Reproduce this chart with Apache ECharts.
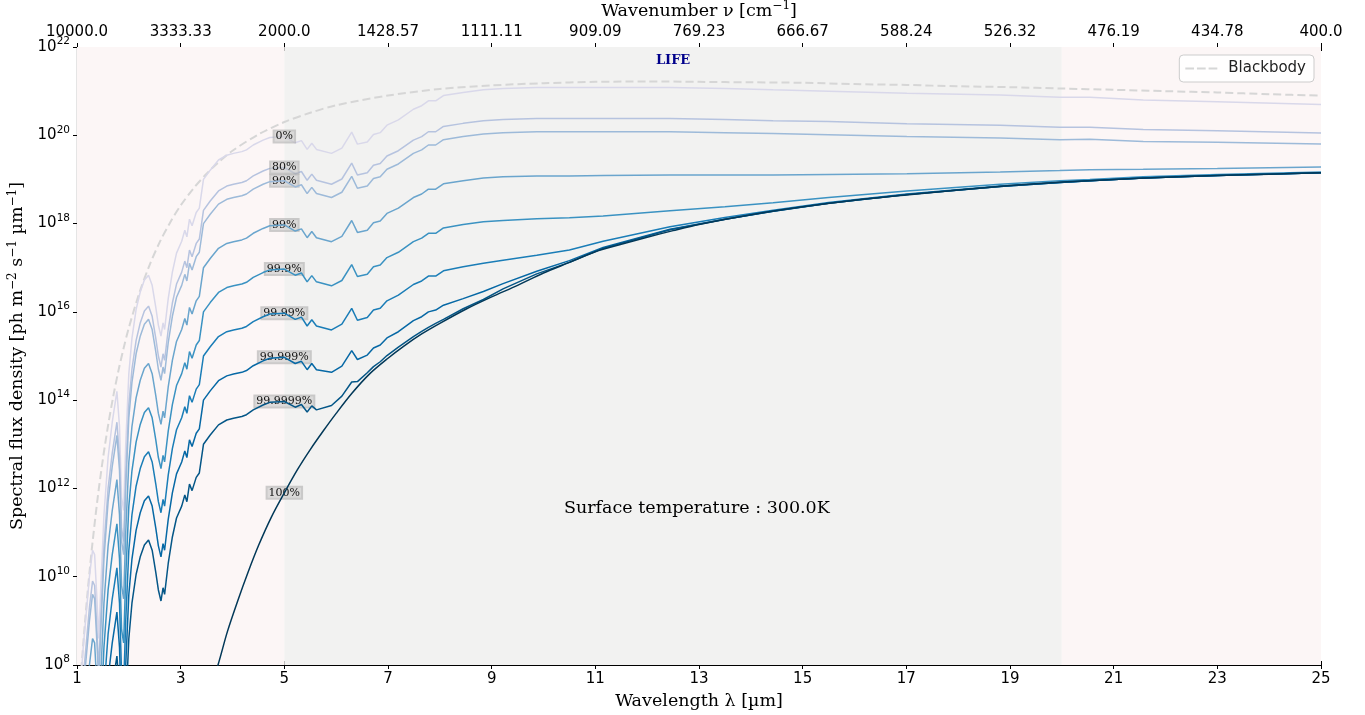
<!DOCTYPE html>
<html>
<head>
<meta charset="utf-8">
<script src="https://cdn.jsdelivr.net/npm/echarts@6/dist/echarts.min.js"></script>
<style>
  html, body { margin: 0; padding: 0; background: #ffffff; }
  #chart { width: 1365px; height: 715px; }
</style>
</head>
<body>
<div id="chart"></div>
<script>
// Emission spectra of a 300 K planet for several cloud-cover fractions.
// Flux values are stored as log10 of the spectral photon flux density
// [ph m^-2 s^-1 um^-1]; the y axis is laid out in decades.

const tickLams = [1, 3, 5, 7, 9, 11, 13, 15, 17, 19, 21, 23, 25];
const wavenumberLabels = ['10000.0', '3333.33', '2000.0', '1428.57', '1111.11', '909.09',
  '769.23', '666.67', '588.24', '526.32', '476.19', '434.78', '400.0'];

const curveNames = ['0%', '80%', '90%', '99%', '99.9%', '99.99%', '99.999%', '99.9999%'];

// wavelength grid shared by the partly cloudy spectra [um]
const lambdaGrid = [
  1.00, 1.06, 1.12, 1.18, 1.24, 1.30, 1.34, 1.38, 1.42, 1.46, 1.52, 1.60, 1.68, 1.77, 1.82, 1.86,
  1.90, 1.94, 2.00, 2.06, 2.14, 2.22, 2.30, 2.38, 2.45, 2.52, 2.57, 2.62, 2.66, 2.69, 2.76, 2.84,
  2.92, 3.02, 3.08, 3.12, 3.17, 3.22, 3.30, 3.36, 3.44, 3.57, 3.73, 3.89, 4.02, 4.18, 4.27, 4.40,
  4.59, 4.72, 5.00,
  5.21, 5.33, 5.44, 5.53, 5.62, 5.91, 6.11, 6.30, 6.41, 6.60, 6.72, 6.85, 6.98, 7.20, 7.49, 7.65,
  7.78, 7.92, 8.07, 8.45, 8.84, 9.22, 9.87, 10.5, 11.15, 12.44, 13.5, 14.43, 15.5, 17.01, 18.81,
  19.96, 20.54, 21.57, 23.0, 25.0
];

const flux0 = [
  6.5, 7.4, 8.4, 9.2, 10.0, 10.6, 10.5, 9.6, 8.6, 9.8, 11.4, 12.7, 13.5, 14.2, 13.4, 11.8,
  11.5, 13.0, 14.6, 15.4, 16.05, 16.45, 16.72, 16.83, 16.6, 16.1, 15.7, 15.45, 15.75, 15.6, 16.3, 16.9,
  17.33, 17.6, 17.85, 17.7, 18.1, 17.95, 18.25, 18.35, 19.0, 19.21, 19.44, 19.55, 19.59, 19.63, 19.67, 19.78,
  19.89, 19.95, 19.97,
  19.83, 19.88, 19.68, 19.82, 19.68, 19.59, 19.71, 20.07, 19.80, 19.85, 20.02, 20.06, 20.23, 20.35, 20.59, 20.67,
  20.78, 20.78, 20.90, 20.97, 21.03, 21.06, 21.08, 21.08, 21.08, 21.08, 21.06, 21.03, 21.00, 20.95, 20.91,
  20.86, 20.86, 20.80, 20.76, 20.70
];

const flux80 = [
  5.8, 6.7, 7.7, 8.5, 9.3, 9.9, 9.8, 8.9, 7.9, 9.1, 10.7, 12.0, 12.8, 13.5, 12.7, 11.1,
  10.8, 12.3, 13.9, 14.7, 15.35, 15.75, 16.02, 16.13, 15.9, 15.4, 15.0, 14.75, 15.05, 14.9, 15.6, 16.2,
  16.63, 16.9, 17.15, 17.0, 17.4, 17.25, 17.55, 17.65, 18.3, 18.51, 18.74, 18.85, 18.89, 18.93, 18.97, 19.08,
  19.19, 19.25, 19.27,
  19.13, 19.18, 18.98, 19.12, 18.98, 18.89, 19.01, 19.37, 19.10, 19.15, 19.32, 19.36, 19.53, 19.65, 19.89, 19.97,
  20.08, 20.08, 20.20, 20.27, 20.33, 20.36, 20.38, 20.38, 20.38, 20.38, 20.36, 20.33, 20.31, 20.26, 20.23,
  20.18, 20.18, 20.13, 20.10, 20.05
];

const flux90 = [
  5.5, 6.4, 7.4, 8.2, 9.0, 9.6, 9.5, 8.6, 7.6, 8.8, 10.4, 11.7, 12.5, 13.2, 12.4, 10.8,
  10.5, 12.0, 13.6, 14.4, 15.05, 15.45, 15.72, 15.83, 15.6, 15.1, 14.7, 14.45, 14.75, 14.6, 15.3, 15.9,
  16.33, 16.6, 16.85, 16.7, 17.1, 16.95, 17.25, 17.35, 18.0, 18.21, 18.44, 18.55, 18.59, 18.63, 18.67, 18.78,
  18.89, 18.95, 18.97,
  18.83, 18.88, 18.68, 18.82, 18.68, 18.59, 18.71, 19.07, 18.80, 18.85, 19.02, 19.06, 19.23, 19.35, 19.59, 19.67,
  19.78, 19.78, 19.90, 19.97, 20.03, 20.06, 20.08, 20.08, 20.08, 20.08, 20.06, 20.04, 20.01, 19.97, 19.94,
  19.90, 19.91, 19.86, 19.84, 19.80
];

const flux99 = [
  4.5, 5.4, 6.4, 7.2, 8.0, 8.6, 8.5, 7.6, 6.6, 7.8, 9.4, 10.7, 11.5, 12.2, 11.4, 9.8,
  9.5, 11.0, 12.6, 13.4, 14.05, 14.45, 14.72, 14.83, 14.6, 14.1, 13.7, 13.45, 13.75, 13.6, 14.3, 14.9,
  15.33, 15.6, 15.85, 15.7, 16.1, 15.95, 16.25, 16.35, 17.0, 17.21, 17.44, 17.55, 17.59, 17.63, 17.67, 17.78,
  17.89, 17.95, 17.97,
  17.83, 17.88, 17.68, 17.82, 17.68, 17.59, 17.71, 18.07, 17.80, 17.85, 18.02, 18.06, 18.23, 18.35, 18.59, 18.67,
  18.78, 18.78, 18.90, 18.97, 19.03, 19.06, 19.08, 19.08, 19.09, 19.10, 19.10, 19.10, 19.11, 19.13, 19.17,
  19.20, 19.22, 19.23, 19.25, 19.28
];

const flux999 = [
  3.5, 4.4, 5.4, 6.2, 7.0, 7.6, 7.5, 6.6, 5.6, 6.8, 8.4, 9.7, 10.5, 11.2, 10.4, 8.8,
  8.5, 10.0, 11.6, 12.4, 13.05, 13.45, 13.72, 13.83, 13.6, 13.1, 12.7, 12.45, 12.75, 12.6, 13.3, 13.9,
  14.33, 14.6, 14.85, 14.7, 15.1, 14.95, 15.25, 15.35, 16.0, 16.21, 16.44, 16.55, 16.59, 16.63, 16.67, 16.78,
  16.89, 16.95, 16.97,
  16.83, 16.88, 16.68, 16.82, 16.68, 16.59, 16.71, 17.07, 16.80, 16.85, 17.02, 17.06, 17.23, 17.35, 17.59, 17.67,
  17.78, 17.78, 17.90, 17.98, 18.04, 18.07, 18.11, 18.13, 18.17, 18.29, 18.38, 18.47, 18.59, 18.74, 18.89,
  18.97, 19.00, 19.06, 19.11, 19.17
];

const flux9999 = [
  2.5, 3.4, 4.4, 5.2, 6.0, 6.6, 6.5, 5.6, 4.6, 5.8, 7.4, 8.7, 9.5, 10.2, 9.4, 7.8,
  7.5, 9.0, 10.6, 11.4, 12.05, 12.45, 12.72, 12.83, 12.6, 12.1, 11.7, 11.45, 11.75, 11.6, 12.3, 12.9,
  13.33, 13.6, 13.85, 13.7, 14.1, 13.95, 14.25, 14.35, 15.0, 15.21, 15.44, 15.55, 15.59, 15.63, 15.67, 15.78,
  15.89, 15.95, 15.97,
  15.83, 15.88, 15.68, 15.82, 15.68, 15.59, 15.72, 16.08, 15.81, 15.87, 16.04, 16.08, 16.25, 16.38, 16.62, 16.70,
  16.81, 16.81, 16.93, 17.02, 17.10, 17.17, 17.28, 17.40, 17.60, 17.93, 18.14, 18.30, 18.48, 18.67, 18.85,
  18.93, 18.97, 19.03, 19.09, 19.15
];

const flux99999 = [
  1.5, 2.4, 3.4, 4.2, 5.0, 5.6, 5.5, 4.6, 3.6, 4.8, 6.4, 7.7, 8.5, 9.2, 8.4, 6.8,
  6.5, 8.0, 9.6, 10.4, 11.05, 11.45, 11.72, 11.83, 11.6, 11.1, 10.7, 10.45, 10.75, 10.6, 11.3, 11.9,
  12.33, 12.6, 12.85, 12.7, 13.1, 12.95, 13.25, 13.35, 14.0, 14.21, 14.44, 14.55, 14.59, 14.63, 14.67, 14.78,
  14.89, 14.95, 14.97,
  14.83, 14.88, 14.69, 14.83, 14.69, 14.63, 14.77, 15.12, 14.92, 15.02, 15.18, 15.25, 15.41, 15.55, 15.80, 15.89,
  16.00, 16.04, 16.15, 16.30, 16.46, 16.64, 16.92, 17.16, 17.46, 17.87, 18.10, 18.28, 18.46, 18.66, 18.84,
  18.93, 18.97, 19.03, 19.09, 19.15
];

const flux999999 = [
  0.5, 1.4, 2.4, 3.2, 4.0, 4.6, 4.5, 3.6, 2.6, 3.8, 5.4, 6.7, 7.5, 8.2, 7.4, 5.8,
  5.5, 7.0, 8.6, 9.4, 10.05, 10.45, 10.72, 10.83, 10.6, 10.1, 9.7, 9.45, 9.75, 9.6, 10.3, 10.9,
  11.33, 11.6, 11.85, 11.7, 12.1, 11.95, 12.25, 12.35, 13.0, 13.21, 13.44, 13.55, 13.59, 13.63, 13.67, 13.78,
  13.89, 13.95, 13.97,
  13.84, 13.90, 13.73, 13.87, 13.78, 13.88, 14.09, 14.41, 14.42, 14.62, 14.76, 14.87, 15.01, 15.20, 15.44, 15.56,
  15.65, 15.74, 15.83, 16.07, 16.28, 16.52, 16.86, 17.12, 17.44, 17.86, 18.10, 18.28, 18.46, 18.66, 18.84,
  18.93, 18.97, 19.03, 19.09, 19.15
];

// fully overcast spectrum (100 %)
const cloudLam = [3.6, 3.72, 3.9, 4.1, 4.3, 4.5, 4.75, 5.0, 5.25, 5.5, 5.75, 6.0, 6.3, 6.65, 7.0, 7.3,
  7.65, 8.0, 8.5, 9.0, 9.5, 10.0, 10.5, 11.0, 11.5, 12.0, 12.5, 13.0, 14.0, 15.0, 16.0, 17.0,
  18.0, 19.0, 20.0, 21.0, 22.0, 23.0, 24.0, 25.0];
const cloudFlux = [7.6, 8.0, 8.75, 9.45, 10.1, 10.7, 11.35, 11.9, 12.42, 12.88, 13.3, 13.7, 14.15, 14.6, 14.95, 15.22,
  15.5, 15.74, 16.06, 16.34, 16.6, 16.88, 17.12, 17.36, 17.53, 17.69, 17.84, 17.98, 18.2, 18.38, 18.53, 18.65,
  18.76, 18.86, 18.94, 19.0, 19.05, 19.09, 19.12, 19.15];

// 300 K blackbody reference
const bbLam = [1.05, 1.10, 1.15, 1.20, 1.25, 1.30, 1.40, 1.50, 1.60, 1.70, 1.80, 1.90, 2.00, 2.20, 2.40,
  2.60, 2.80, 3.00, 3.25, 3.50, 3.75, 4.00, 4.50, 5.00, 5.50, 6.00, 7.00, 8.00, 9.00, 10.0, 11.0,
  12.0, 13.0, 14.0, 15.0, 16.0, 17.0, 18.0, 19.0, 20.0, 21.0, 22.0, 23.0, 24.0, 25.0];
const bbFlux = [7.34, 8.16, 8.91, 9.59, 10.21, 10.78, 11.80, 12.67, 13.43, 14.09, 14.67, 15.18, 15.64, 16.42, 17.06,
  17.59, 18.03, 18.41, 18.80, 19.13, 19.41, 19.65, 20.02, 20.30, 20.51, 20.68, 20.90, 21.05, 21.13, 21.18, 21.21,
  21.22, 21.21, 21.20, 21.19, 21.16, 21.14, 21.11, 21.09, 21.06, 21.03, 21.00, 20.97, 20.93, 20.90];

const curveValues = [flux0, flux80, flux90, flux99, flux999, flux9999, flux99999, flux999999];
const curveColors = ['#d9d8ea', '#b6c3df', '#9dbad9', '#6aa5cd', '#3a92c2', '#1a7db7', '#0668a5', '#045687'];
const cloudColor = '#023858';

const labelLam = 5;
const SERIF = 'DejaVu Serif';
const SANS = 'DejaVu Sans';

const pair = (xs, ys) => xs.map((x, i) => [x, ys[i]]);

function tagPoint(name, xs, ys) {
  const i = xs.indexOf(labelLam);
  return {
    symbol: 'circle',
    symbolSize: 1,
    itemStyle: { color: 'rgba(0,0,0,0)' },
    label: {
      show: true,
      position: 'inside',
      formatter: '{b}',
      fontFamily: SERIF,
      fontSize: 11,
      color: '#111',
      backgroundColor: 'rgba(200,200,200,0.6)',
      borderColor: 'rgba(150,150,150,0.45)',
      borderWidth: 1,
      padding: [1, 2, 0, 2]
    },
    data: [{ name: name, coord: [xs[i], ys[i]] }]
  };
}

const chart = echarts.init(document.getElementById('chart'), null, { renderer: 'canvas' });

const series = [];

// wavelength bands: outside / inside the LIFE range
series.push({
  type: 'line',
  name: 'bands',
  data: [],
  silent: true,
  z: 0,
  markArea: {
    silent: true,
    data: [
      [{ xAxis: 1, itemStyle: { color: '#fcf6f6' } }, { xAxis: 5 }],
      [{ xAxis: 5, name: 'LIFE', itemStyle: { color: '#f2f2f1' } }, { xAxis: 20 }],
      [{ xAxis: 20, itemStyle: { color: '#fcf6f6' } }, { xAxis: 25 }]
    ],
    label: {
      show: true,
      position: 'insideTop',
      distance: 7,
      formatter: (p) => p.name || '',
      fontFamily: SERIF,
      fontWeight: 'bold',
      fontSize: 13,
      color: '#00008b'
    }
  }
});

series.push({
  type: 'line',
  name: 'Blackbody',
  data: pair(bbLam, bbFlux),
  symbol: 'none',
  smooth: 0.3,
  lineStyle: { color: '#d6d6d6', width: 2, type: [8, 4] },
  itemStyle: { color: '#d6d6d6' },
  z: 2
});

curveNames.forEach((name, k) => {
  series.push({
    type: 'line',
    name: name,
    data: pair(lambdaGrid, curveValues[k]),
    symbol: 'none',
    lineStyle: { color: curveColors[k], width: 1.5 },
    itemStyle: { color: curveColors[k] },
    z: 3 + k,
    markPoint: tagPoint(name, lambdaGrid, curveValues[k])
  });
});

series.push({
  type: 'line',
  name: '100%',
  data: pair(cloudLam, cloudFlux),
  symbol: 'none',
  smooth: 0.3,
  lineStyle: { color: cloudColor, width: 1.5 },
  itemStyle: { color: cloudColor },
  z: 12,
  markPoint: tagPoint('100%', cloudLam, cloudFlux)
});

const tickLine = { color: '#000', width: 1 };

const option = {
  animation: false,
  backgroundColor: '#ffffff',
  grid: { left: 77, right: 44, top: 47, bottom: 50, containLabel: false, outerBoundsMode: 'none' },
  legend: {
    data: [{ name: 'Blackbody', icon: 'path://M0,0h9v2h-9z M12,0h9v2h-9z M24,0h9v2h-9z' }],
    right: 51,
    top: 55,
    padding: [6, 8, 6, 6],
    itemWidth: 32,
    itemHeight: 2,
    itemGap: 8,
    backgroundColor: 'rgba(255,255,255,0.85)',
    borderColor: '#cccccc',
    borderWidth: 1,
    borderRadius: 4,
    textStyle: { fontFamily: SANS, fontSize: 15, color: '#222', padding: [0, 0, 0, 6] }
  },
  xAxis: [
    {
      type: 'value', position: 'bottom', min: 1, max: 25,
      axisLine: { show: true, onZero: false, lineStyle: { color: '#000', width: 1.2 } },
      axisTick: { show: true, customValues: tickLams, length: 4, lineStyle: tickLine },
      axisLabel: { customValues: tickLams, fontFamily: SANS, fontSize: 15, color: '#000', margin: 7 },
      splitLine: { show: false },
      name: 'Wavelength λ [µm]',
      nameLocation: 'middle',
      nameGap: 27,
      nameTextStyle: { fontFamily: SERIF, fontSize: 17.5, color: '#000' }
    },
    {
      type: 'value', position: 'top', min: 1, max: 25,
      axisLine: { show: false },
      axisTick: { show: true, customValues: tickLams, length: 4, lineStyle: tickLine },
      axisLabel: {
        customValues: tickLams, fontFamily: SANS, fontSize: 15, color: '#000', margin: 7,
        formatter: (v) => wavenumberLabels[tickLams.indexOf(v)]
      },
      splitLine: { show: false },
      name: '{t|Wavenumber ν [cm}{s|−1}{t|]}',
      nameLocation: 'middle',
      nameGap: 24,
      nameTextStyle: {
        rich: {
          t: { fontFamily: SERIF, fontSize: 17.5, color: '#000', lineHeight: 22 },
          s: { fontFamily: SERIF, fontSize: 12, color: '#000', lineHeight: 12, verticalAlign: 'top' }
        }
      }
    },
    {
      type: 'value', position: 'bottom', min: 1, max: 25,
      axisLine: { show: false },
      axisTick: { show: true, inside: true, customValues: tickLams, length: 4, lineStyle: tickLine },
      axisLabel: { show: false },
      splitLine: { show: false }
    },
    {
      type: 'value', position: 'top', min: 1, max: 25,
      axisLine: { show: false },
      axisTick: { show: true, inside: true, customValues: tickLams, length: 4, lineStyle: tickLine },
      axisLabel: { show: false },
      splitLine: { show: false }
    }
  ],
  yAxis: [
    {
      type: 'value', position: 'left', min: 8, max: 22, interval: 2,
      axisLine: { show: true, onZero: false, lineStyle: { color: '#000', width: 1.2 } },
      axisTick: { show: true, length: 4, lineStyle: tickLine },
      axisLabel: {
        margin: 7,
        formatter: (v) => '{b|10}{s|' + v + '}',
        rich: {
          b: { fontFamily: SANS, fontSize: 15, color: '#000', lineHeight: 22 },
          s: { fontFamily: SANS, fontSize: 10.5, color: '#000', lineHeight: 12, verticalAlign: 'top' }
        }
      },
      splitLine: { show: false },
      name: '{t|Spectral flux density [ph m}{s|−2}{t| s}{s|−1}{t| µm}{s|−1}{t|]}',
      nameLocation: 'middle',
      nameRotate: 90,
      nameGap: 46,
      nameTextStyle: {
        rich: {
          t: { fontFamily: SERIF, fontSize: 17.5, color: '#000', lineHeight: 22 },
          s: { fontFamily: SERIF, fontSize: 12, color: '#000', lineHeight: 12, verticalAlign: 'top' }
        }
      }
    },
    {
      type: 'value', position: 'left', min: 8, max: 22, interval: 2,
      axisLine: { show: false },
      axisTick: { show: true, inside: true, length: 4, lineStyle: tickLine },
      axisLabel: { show: false },
      splitLine: { show: false }
    }
  ],
  graphic: [
    {
      type: 'text',
      left: 564,
      top: 499,
      style: {
        text: 'Surface temperature : 300.0K',
        font: '17.5px "DejaVu Serif"',
        fill: '#000'
      },
      z: 20
    }
  ],
  series: series
};

chart.setOption(option);
</script>
</body>
</html>
